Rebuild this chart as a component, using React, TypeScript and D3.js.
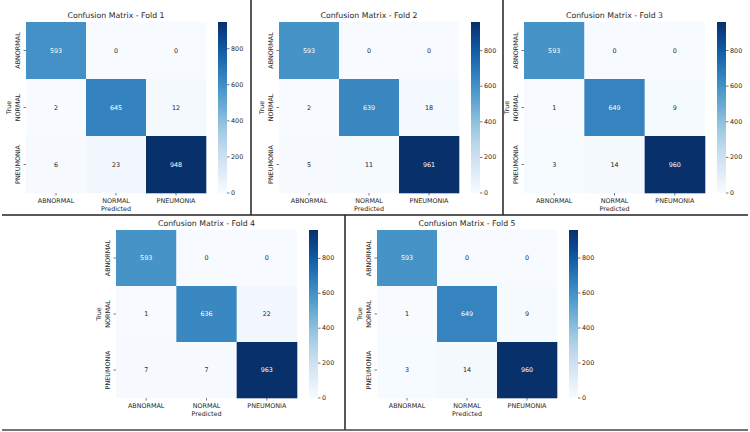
import * as d3 from "d3";
import React from "react";

// class names shared by every fold
const classes = ["ABNORMAL", "NORMAL", "PNEUMONIA"];

// confusion matrices, rows = true class, columns = predicted class
const fold1 = [[593, 0, 0], [2, 645, 12], [6, 23, 948]];
const fold2 = [[593, 0, 0], [2, 639, 18], [5, 11, 961]];
const fold3 = [[593, 0, 0], [1, 649, 9], [3, 14, 960]];
const fold4 = [[593, 0, 0], [1, 636, 22], [7, 7, 963]];
const fold5 = [[593, 0, 0], [1, 649, 9], [3, 14, 960]];

const foldTitles = [
  "Confusion Matrix - Fold 1",
  "Confusion Matrix - Fold 2",
  "Confusion Matrix - Fold 3",
  "Confusion Matrix - Fold 4",
  "Confusion Matrix - Fold 5",
];

const colorbarTicks = [0, 200, 400, 600, 800];

const FONT = "DejaVu Sans, sans-serif";
const INK = "#1f1f1f";
const LABEL = 6.4;

// heatmap origin for each panel
const panels = [
  { m: fold1, x: 26, y: 22, w: 180, h: 171 },
  { m: fold2, x: 279, y: 22, w: 180, h: 171 },
  { m: fold3, x: 524, y: 22, w: 181, h: 171 },
  { m: fold4, x: 116, y: 230, w: 181, h: 168 },
  { m: fold5, x: 377, y: 230, w: 180, h: 168 },
];

function luminance(c: string) {
  const rgb = d3.rgb(c);
  const ch = [rgb.r, rgb.g, rgb.b].map((v) => {
    const s = v / 255;
    return s <= 0.03928 ? s / 12.92 : Math.pow((s + 0.055) / 1.055, 2.4);
  });
  return 0.2126 * ch[0] + 0.7152 * ch[1] + 0.0722 * ch[2];
}

function Heatmap({ idx, m, x, y, w, h }: { idx: number; m: number[][]; x: number; y: number; w: number; h: number }) {
  const max = d3.max(m.flat()) as number;
  const xs = d3.scaleBand<string>().domain(classes).range([0, w]);
  const ys = d3.scaleBand<string>().domain(classes).range([0, h]);
  const color = d3.scaleSequential(d3.interpolateBlues).domain([0, max]);
  const cb = d3.scaleLinear().domain([0, max]).range([h, 0]);
  const cbX = w + 12;
  const cbW = 9;
  const gradId = `cbgrad${idx}`;
  const stops = d3.range(0, 1.0001, 0.05);

  return (
    <g transform={`translate(${x},${y})`}>
      <defs>
        <linearGradient id={gradId} x1="0" y1="1" x2="0" y2="0">
          {stops.map((t) => (
            <stop key={t} offset={t} stopColor={d3.interpolateBlues(t)} />
          ))}
        </linearGradient>
      </defs>
      <text x={w / 2} y={-4} textAnchor="middle" fontSize={7.8} fill={INK}>
        {foldTitles[idx]}
      </text>
      {m.map((row, ri) =>
        row.map((v, ci) => {
          const fill = color(v);
          const tc = luminance(fill) > 0.408 ? INK : "#ffffff";
          return (
            <g key={`${ri}-${ci}`}>
              <rect
                x={xs(classes[ci])}
                y={ys(classes[ri])}
                width={xs.bandwidth() + 0.3}
                height={ys.bandwidth() + 0.3}
                fill={fill}
              />
              <text
                x={(xs(classes[ci]) as number) + xs.bandwidth() / 2}
                y={(ys(classes[ri]) as number) + ys.bandwidth() / 2}
                textAnchor="middle"
                dominantBaseline="central"
                fontSize={LABEL}
                fill={tc}
              >
                {v}
              </text>
            </g>
          );
        })
      )}
      {/* x axis ticks and labels */}
      {classes.map((c) => {
        const cx = (xs(c) as number) + xs.bandwidth() / 2;
        return (
          <g key={`xt-${c}`}>
            <line x1={cx} x2={cx} y1={h} y2={h + 2.5} stroke={INK} strokeWidth={0.6} />
            <text x={cx} y={h + 9.5} textAnchor="middle" fontSize={LABEL} fill={INK}>
              {c}
            </text>
          </g>
        );
      })}
      <text x={w / 2} y={h + 18} textAnchor="middle" fontSize={LABEL} fill={INK}>
        Predicted
      </text>
      {/* y axis ticks and labels */}
      {classes.map((c) => {
        const cy = (ys(c) as number) + ys.bandwidth() / 2;
        return (
          <g key={`yt-${c}`}>
            <line x1={-2.5} x2={0} y1={cy} y2={cy} stroke={INK} strokeWidth={0.6} />
            <text
              transform={`translate(${-6.5},${cy}) rotate(-90)`}
              textAnchor="middle"
              fontSize={LABEL}
              fill={INK}
            >
              {c}
            </text>
          </g>
        );
      })}
      <text
        transform={`translate(${-15},${h / 2}) rotate(-90)`}
        textAnchor="middle"
        fontSize={LABEL}
        fill={INK}
      >
        True
      </text>
      {/* colorbar */}
      <rect x={cbX} y={0} width={cbW} height={h} fill={`url(#${gradId})`} />
      {colorbarTicks.map((t) => (
        <g key={`cb-${t}`}>
          <line x1={cbX + cbW} x2={cbX + cbW + 2.5} y1={cb(t)} y2={cb(t)} stroke={INK} strokeWidth={0.6} />
          <text
            x={cbX + cbW + 4}
            y={cb(t)}
            dominantBaseline="central"
            fontSize={LABEL}
            fill={INK}
          >
            {t}
          </text>
        </g>
      ))}
    </g>
  );
}

export default function App() {
  return (
    <svg
      width={750}
      height={432}
      style={{ position: "absolute", left: 0, top: 0, background: "#fff" }}
      fontFamily={FONT}
    >
      <rect width={750} height={432} fill="#fff" />
      {panels.map((p, i) => (
        <Heatmap key={i} idx={i} m={p.m} x={p.x} y={p.y} w={p.w} h={p.h} />
      ))}
      {/* panel dividers */}
      <line x1={251} x2={251} y1={0} y2={215} stroke="#222" strokeWidth={1.5} />
      <line x1={503} x2={503} y1={0} y2={215} stroke="#222" strokeWidth={1.5} />
      <line x1={2} x2={748} y1={215} y2={215} stroke="#222" strokeWidth={1.5} />
      <line x1={345} x2={345} y1={215} y2={430} stroke="#222" strokeWidth={1.5} />
      <line x1={2} x2={748} y1={430} y2={430} stroke="#444" strokeWidth={1.5} />
    </svg>
  );
}
